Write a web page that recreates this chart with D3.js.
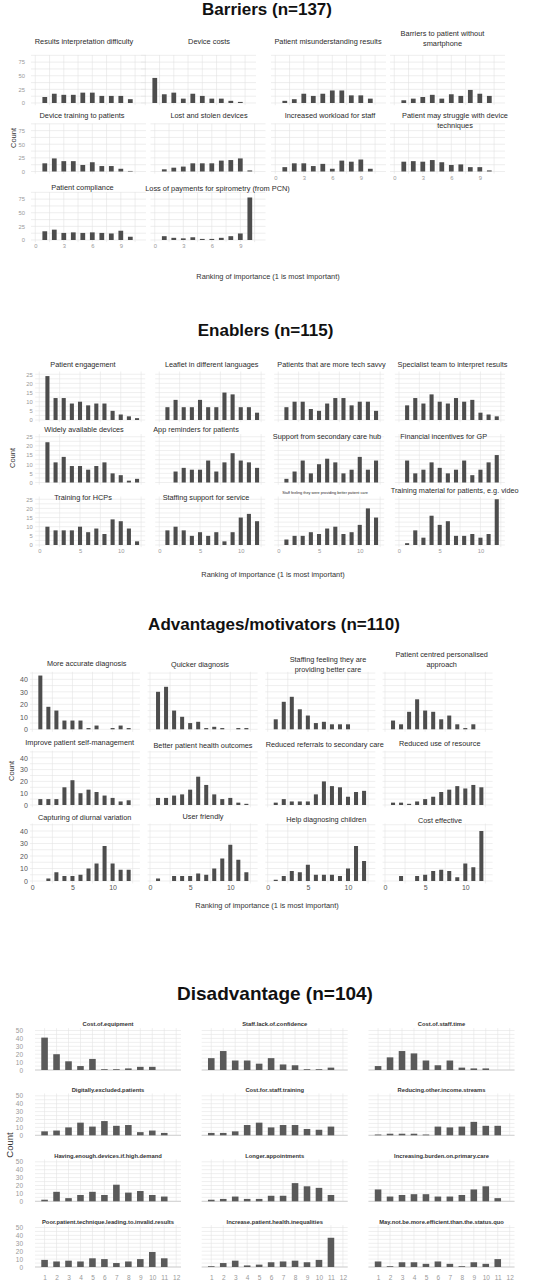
<!DOCTYPE html>
<html><head><meta charset="utf-8">
<script src="https://cdn.jsdelivr.net/npm/d3@7"></script>
<style>html,body{margin:0;padding:0;background:#fff}svg{display:block}</style>
</head><body>
<script>
// ================= DATA =================
// --- Barriers (n=137) ---
const barrierTitles = ["Results interpretation difficulty","Device costs","Patient misunderstanding results","Barriers to patient without\nsmartphone","Device training to patients","Lost and stolen devices","Increased workload for staff","Patient may struggle with device\ntechniques","Patient compliance","Loss of payments for spirometry (from PCN)"];
const barrierRanks = [1,2,3,4,5,6,7,8,9,10];
const barrierCounts = [
  [11,17,15,15,19,19,13,13,13,7],
  [46,16,19,8,17,13,8,8,4,2],
  [4,7,17,13,17,23,23,14,14,8],
  [5,8,11,15,8,16,13,24,17,13],
  [15,24,19,19,12,17,10,10,5,1],
  [4,7,9,15,15,15,20,21,24,2],
  [8,15,15,10,14,5,20,18,22,5],
  [18,19,18,21,17,12,13,8,8,2],
  [16,19,13,14,13,14,13,12,17,6],
  [7,4,3,5,2,2,4,7,12,78]
];
const barrierXTicks = [0,3,6,9];
const barrierYTicks = [0,25,50,75];

// --- Enablers (n=115) ---
const enablerTitles = ["Patient engagement","Leaflet in different languages","Patients that are more tech savvy","Specialist team to interpret results","Widely available devices","App reminders for patients","Support from secondary care hub","Financial incentives for GP","Training for HCPs","Staffing support for service","Staff feeling they were providing better patient care","Training material for patients, e.g. video"];
const enablerRanks = [1,2,3,4,5,6,7,8,9,10,11,12];
const enablerCounts = [
  [24,12,12,9,10,8,9,9,5,3,2,1],
  [7,11,7,7,11,7,7,15,14,7,7,4],
  [7,10,10,6,5,9,12,12,8,10,10,5],
  [8,12,9,14,10,9,12,10,11,4,3,2],
  [22,11,14,9,9,7,9,11,5,4,1,2],
  [0,6,8,7,7,12,6,11,16,12,11,8],
  [2,6,12,5,10,13,11,5,7,14,7,12],
  [12,5,7,11,8,5,7,12,4,7,11,15],
  [10,8,8,8,10,7,9,6,14,13,9,2],
  [8,10,8,5,7,5,7,2,7,15,17,13],
  [3,5,5,7,6,9,10,6,7,11,20,15],
  [1,8,4,16,11,13,5,5,6,4,6,25]
];
const enablerXTicks = [0,5,10];
const enablerYTicks = [0,5,10,15,20,25];

// --- Advantages/motivators (n=110) ---
const advantageTitles = ["More accurate diagnosis","Quicker diagnosis","Staffing feeling they are\nproviding better care","Patient centred personalised\napproach","Improve patient self-management","Better patient health outcomes","Reduced referrals to secondary care","Reduced use of resource","Capturing of diurnal variation","User friendly","Help diagnosing children","Cost effective"];
const advantageRanks = [1,2,3,4,5,6,7,8,9,10,11,12];
const advantageCounts = [
  [43,18,15,7,7,7,1,3,0,1,3,1],
  [30,34,15,10,5,6,1,2,1,0,1,1],
  [8,22,26,16,11,5,6,4,4,4,0,0],
  [7,4,14,24,15,14,8,11,4,1,4,0],
  [5,5,5,15,21,10,13,11,8,6,3,4],
  [6,6,8,9,13,24,17,9,5,6,2,1],
  [2,5,3,3,3,9,20,16,15,7,11,12],
  [2,2,1,3,5,7,11,13,16,14,17,15],
  [0,2,7,4,4,5,10,14,28,14,9,9],
  [2,0,4,4,4,6,5,10,18,29,17,7],
  [1,4,8,7,13,5,5,5,4,10,28,16],
  [0,4,0,4,5,8,9,8,3,14,11,40]
];
const advantageXTicks = [0,5,10];
const advantageYTicks = [0,10,20,30,40];

// --- Disadvantage (n=104) ---
const disadvantageTitles = ["Cost.of.equipment","Staff.lack.of.confidence","Cost.of.staff.time","Digitally.excluded.patients","Cost.for.staff.training","Reducing.other.income.streams","Having.enough.devices.if.high.demand","Longer.appointments","Increasing.burden.on.primary.care","Poor.patient.technique.leading.to.invalid.results","Increase.patient.health.inequalities","May.not.be.more.efficient.than.the.status.quo"];
const disadvantageRanks = [1,2,3,4,5,6,7,8,9,10,11];
const disadvantageCounts = [
  [41,20,11,5,14,1,1,2,4,4,0],
  [15,24,12,12,8,15,7,6,1,1,3],
  [5,16,24,21,12,6,12,3,2,2,0],
  [5,6,10,16,11,18,12,13,4,6,3],
  [3,3,5,13,16,10,13,13,8,7,11],
  [1,2,2,2,1,11,10,11,17,12,12],
  [2,12,4,8,12,8,21,11,13,8,6],
  [2,3,6,3,3,7,7,23,19,17,8],
  [15,6,8,9,9,6,6,8,15,19,4],
  [9,7,8,7,11,10,5,7,10,19,11],
  [1,5,8,2,3,6,7,8,6,9,37],
  [7,1,6,6,4,7,4,1,6,4,10]
];
const disadvantageXTicks = [1,2,3,4,5,6,7,8,9,10,11,12];
const disadvantageYTicks = [0,10,20,30,40,50];

const sectionTitles = ["Barriers (n=137)","Enablers (n=115)","Advantages/motivators (n=110)","Disadvantage (n=104)"];
const xAxisTitle = "Ranking of importance (1 is most important)";
const yAxisTitle = "Count";

// ================= DRAWING =================
const W = 550, H = 1280;
const SANS = "'Liberation Sans', Arial, Helvetica, sans-serif";
const svg = d3.select("body").append("svg").attr("width", W).attr("height", H);

function drawSection(cfg) {
  const g = svg.append("g");
  g.append("text").attr("x", cfg.headX).attr("y", cfg.headY).attr("text-anchor", "middle")
    .attr("font-family", SANS).attr("font-weight", "bold").attr("font-size", cfg.headSize)
    .attr("fill", "#111").text(cfg.head);

  cfg.titles.forEach((title, i) => {
    const r = Math.floor(i / cfg.cols), c = i % cfg.cols;
    const left = cfg.colLeft[c] + ((cfg.dx && cfg.dx[i]) || 0);
    const base = cfg.baselines[r];
    const k = Array.isArray(cfg.k) ? cfg.k[r] : cfg.k;
    const x = d3.scaleLinear().domain(cfg.xDom).range([left, left + cfg.width]);
    const y = d3.scaleLinear().domain([0, 10]).range([base, base - 10 * k]);
    const y0 = y(cfg.yDom[0]), y1 = y(cfg.yDom[1]);
    const pg = g.append("g");

    // grid
    const eps = 1e-9;
    const minorX = cfg.xMinor ? d3.range(Math.ceil(cfg.xDom[0] / cfg.xMinor) * cfg.xMinor, cfg.xDom[1] + eps, cfg.xMinor) : [];
    const minorY = cfg.yMinor ? d3.range(Math.ceil(cfg.yDom[0] / cfg.yMinor) * cfg.yMinor, cfg.yDom[1] + eps, cfg.yMinor) : [];
    pg.selectAll(null).data(minorX).join("line")
      .attr("x1", d => x(d)).attr("x2", d => x(d)).attr("y1", y0).attr("y2", y1)
      .attr("stroke", cfg.gridColor).attr("stroke-width", cfg.gridW);
    pg.selectAll(null).data(minorY).join("line")
      .attr("x1", left).attr("x2", left + cfg.width).attr("y1", d => y(d)).attr("y2", d => y(d))
      .attr("stroke", cfg.gridColor).attr("stroke-width", cfg.gridW);
    if (cfg.baseLine) {
      pg.append("line").attr("x1", left).attr("x2", left + cfg.width)
        .attr("y1", y(0)).attr("y2", y(0)).attr("stroke", cfg.baseLine).attr("stroke-width", 0.8);
    }

    // bars
    const rows = cfg.ranks.map((rk, j) => ({ rk, v: cfg.counts[i][j] }));
    pg.selectAll(null).data(rows).join("rect")
      .attr("x", d => x(d.rk - cfg.barW / 2))
      .attr("width", x(cfg.barW) - x(0))
      .attr("y", d => y(d.v))
      .attr("height", d => y(0) - y(d.v))
      .attr("fill", cfg.barColor);

    // panel title
    const tp = cfg.titlePos ? cfg.titlePos[i] : [left + cfg.width / 2, cfg.titleRowY[r]];
    const lines = title.split("\n");
    const t = pg.append("text").attr("text-anchor", "middle")
      .attr("font-family", SANS).attr("font-size", (cfg.titleSizes && cfg.titleSizes[i]) || cfg.titleSize)
      .attr("font-weight", cfg.titleWeight).attr("fill", cfg.titleColor)
      .attr("dominant-baseline", "middle");
    lines.forEach((ln, li) => {
      t.append("tspan").attr("x", tp[0]).attr("y", tp[1] + li * 10).text(ln);
    });

    // axes (tick labels only)
    if (cfg.xAxisPanels.includes(i)) {
      const ax = pg.append("g").attr("transform", `translate(0,${base + cfg.xTickGap})`)
        .call(d3.axisBottom(x).tickValues(cfg.xTicks).tickSize(0).tickPadding(0).tickFormat(d3.format("d")));
      ax.select(".domain").remove();
      ax.selectAll("text").attr("font-family", SANS).attr("font-size", cfg.tickSize).attr("fill", cfg.tickColor).attr("dy", "0.35em").attr("y", 0);
    }
    if (c === 0) {
      const ay = pg.append("g").attr("transform", `translate(${left - cfg.yTickGap},0)`)
        .call(d3.axisLeft(y).tickValues(cfg.yTicks).tickSize(0).tickPadding(0).tickFormat(d3.format("d")));
      ay.select(".domain").remove();
      ay.selectAll("text").attr("font-family", SANS).attr("font-size", cfg.tickSize).attr("fill", cfg.tickColor);
    }
  });

  if (cfg.xTitle) {
    g.append("text").attr("x", cfg.xTitle[0]).attr("y", cfg.xTitle[1]).attr("text-anchor", "middle")
      .attr("dominant-baseline", "middle").attr("font-family", SANS).attr("font-size", 7.4)
      .attr("fill", "#333").text(xAxisTitle);
  }
  g.append("text").attr("transform", `translate(${cfg.yTitle[0]},${cfg.yTitle[1]}) rotate(-90)`)
    .attr("text-anchor", "middle").attr("dominant-baseline", "middle")
    .attr("font-family", SANS).attr("font-size", cfg.yTitle[2]).attr("fill", "#333").text(yAxisTitle);
}

// Barriers
drawSection({
  head: sectionTitles[0], headX: 267, headY: 15, headSize: 17,
  titles: barrierTitles, counts: barrierCounts, ranks: barrierRanks,
  cols: 4, colLeft: [31, 150.5, 271, 390], width: 115, xDom: [-0.45, 11.65],
  dx: {1: -9.5},
  baselines: [103, 171.5, 240], k: 0.545, yDom: [-4, 88],
  xMinor: 1.5, yMinor: 12.5, gridColor: "#e2e2e2", gridW: 0.6,
  barW: 0.5, barColor: "#4d4d4d",
  titlePos: [[84,42],[209,42],[328,42],[442.5,34],[82,116],[209,116],[330,116],[455,116],[82.5,188],[217.5,189]],
  titleSize: 7.4, titleWeight: "normal", titleColor: "#2b2b2b",
  xAxisPanels: [6,7,8,9], xTicks: barrierXTicks, yTicks: barrierYTicks,
  xTickGap: 6, yTickGap: 6, tickSize: 5.8, tickColor: "#999",
  xTitle: [268, 277], yTitle: [14, 138, 7.5]
});

// Enablers
drawSection({
  head: sectionTitles[1], headX: 265.5, headY: 336, headSize: 17,
  titles: enablerTitles, counts: enablerCounts, ranks: enablerRanks,
  cols: 4, colLeft: [35.2, 155.2, 274.2, 394.9], width: 110, xDom: [-0.5, 13],
  baselines: [420, 482.5, 545], k: 1.83, yDom: [-1.2, 26.5],
  xMinor: 2.5, yMinor: 2.5, gridColor: "#e4e4e4", gridW: 0.6,
  barW: 0.5, barColor: "#4d4d4d",
  titlePos: [[83,365],[211.7,365],[331.5,365],[452.5,365],[84,430],[196,430],[327,437],[443.7,437],[83,498],[206,498],[325,493],[454.7,491]],
  titleSizes: {10: 3.8},
  titleSize: 7.3, titleWeight: "normal", titleColor: "#2b2b2b",
  xAxisPanels: [8,9,10,11], xTicks: enablerXTicks, yTicks: enablerYTicks,
  xTickGap: 6, yTickGap: 2.5, tickSize: 5.8, tickColor: "#999",
  xTitle: [273, 575], yTitle: [13, 458, 7.5]
});

// Advantages/motivators
drawSection({
  head: sectionTitles[2], headX: 274, headY: 630, headSize: 17,
  titles: advantageTitles, counts: advantageCounts, ranks: advantageRanks,
  cols: 4, colLeft: [29.9, 147.6, 265.3, 382.6], width: 110, xDom: [-0.3, 13.4],
  baselines: [729.3, 805, 881], k: [1.25, 1.18, 1.25], yDom: [-2, 46],
  xMinor: 2.5, yMinor: 5, gridColor: "#e4e4e4", gridW: 0.6,
  barW: 0.5, barColor: "#4d4d4d",
  titlePos: [[86.7,664],[200,665],[328,660],[441.7,655],[79.7,743],[203,746],[324.7,745],[439.7,744],[84.7,818],[203,817],[326.3,820],[440,821]],
  titleSize: 7.3, titleWeight: "normal", titleColor: "#2b2b2b",
  xAxisPanels: [8,9,10,11], xTicks: advantageXTicks, yTicks: advantageYTicks,
  xTickGap: 7, yTickGap: 2, tickSize: 7, tickColor: "#555",
  xTitle: [267, 906], yTitle: [12, 771, 7.5]
});

// Disadvantage
drawSection({
  head: sectionTitles[3], headX: 275, headY: 1000, headSize: 19,
  titles: disadvantageTitles, counts: disadvantageCounts, ranks: disadvantageRanks,
  cols: 3, colLeft: [35, 201.7, 368.5], width: 146, xDom: [0.2, 12.4],
  baselines: [1070, 1135.3, 1201.3, 1267], k: 0.79, yDom: [0, 53],
  xMinor: 1, yMinor: 5, gridColor: "#e4e4e4", gridW: 0.6, baseLine: "#c8c8c8",
  barW: 0.55, barColor: "#5a5a5a",
  titleRowY: [1024, 1090, 1156, 1222],
  titleSize: 5.8, titleWeight: "bold", titleColor: "#333",
  xAxisPanels: [9,10,11], xTicks: disadvantageXTicks, yTicks: disadvantageYTicks,
  xTickGap: 11, yTickGap: 12, tickSize: 6.5, tickColor: "#999",
  xTitle: null, yTitle: [10, 1145, 9.5]
});
</script>
</body></html>
